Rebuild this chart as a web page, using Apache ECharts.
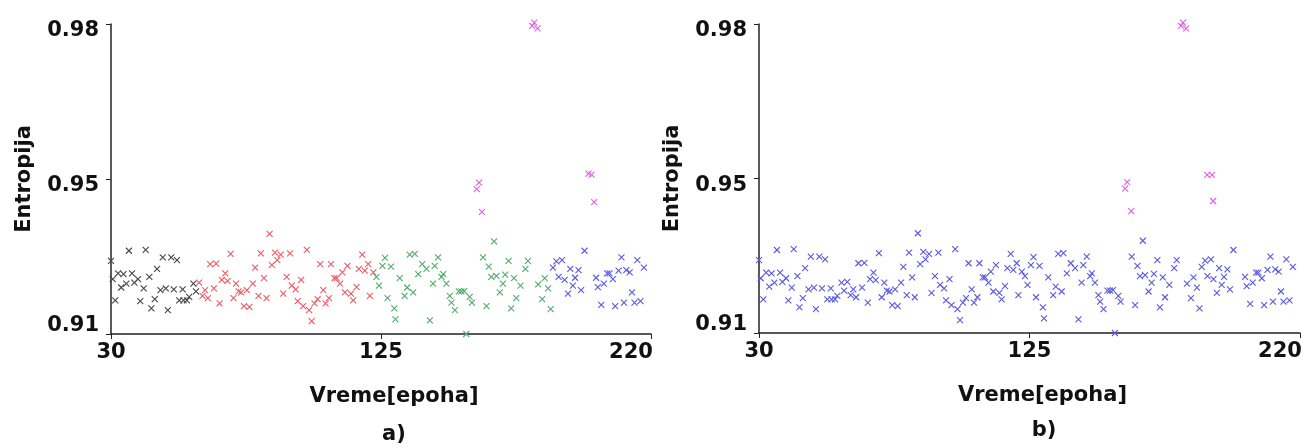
<!DOCTYPE html>
<html>
<head>
<meta charset="utf-8">
<script src="https://cdn.jsdelivr.net/npm/echarts@6/dist/echarts.min.js"></script>
<style>
  html, body { margin: 0; padding: 0; background: #fff; }
  #chart { width: 1310px; height: 448px; }
</style>
</head>
<body>
<div id="chart"></div>
<script>
// Epoch (x) and entropy (y) of every regular measurement
const epochs = [
  30, 30.6, 31.5, 32.5, 33.6, 34.4, 35.4, 36.3, 37.4, 38.2, 39.5, 40.3, 41.5, 42.2, 43.5, 44.2,
  45.4, 46.2, 47.4, 48.2, 49.3, 50, 51.2, 52.1, 53.2, 54, 55.2, 55.5, 56.7, 57.5, 59, 59.9,
  61, 62.2, 63.1, 64.1, 64.9, 66.2, 67, 68.2, 69, 70.2, 71, 72.1, 73.1, 74, 74.9, 75.8, 76.8,
  77.8, 78.7, 79.9, 80.7, 81.9, 82.7, 83.8, 84.7, 85.8, 86.6, 87.7, 88.5, 89.7, 90.6, 91.8, 93,
  93.6, 95, 95.7, 96.9, 97.6, 98.9, 99.7, 100.6, 101.6, 102.7, 103.6, 104.7, 105.5, 106.7, 107.4,
  108.6, 109.4, 110.6, 111.4, 112.3, 113.2, 114.4, 115.2, 116.4, 117.2, 118.4, 119.3, 120.5,
  121.1, 122.3,
  123.4, 124.3, 125.5, 126.4, 127.3, 128.5, 129.7, 130.1, 131.6, 133.3, 134.2, 135.1, 136.3,
  136.9, 138.1, 139.5, 141, 142.2, 143.3, 143.9, 145.1, 146.3, 146.9, 148, 149.2, 149.8, 151,
  152.4, 153.3, 154.3, 155, 156.2, 157, 160.9, 162.1, 162.9, 163.8, 164.8, 165.6, 166.8, 167.9,
  168.7, 169.9, 170.8, 171.8, 172.6, 174.1, 175.8, 176.7, 180.3, 181.7, 182.6, 183.8, 184.7,
  185.5, 186.7, 187.5, 188.7, 189.6, 190.8, 191.6, 192.5, 193.3, 194.5, 195.4, 196.6, 200.7,
  201.3, 202.5, 203.4, 204.6, 205.4, 206.6, 207.4, 208.6, 209.6, 210.5, 211.3, 212.5, 213.3,
  214.2, 215.2, 216.3, 217.5
];
const entropy = [
  0.9265, 0.9224, 0.9176, 0.9237, 0.9205, 0.9235, 0.9214, 0.9288, 0.9237, 0.9216, 0.9224, 0.9174,
  0.9203, 0.9290, 0.9229, 0.9158, 0.9179, 0.9247, 0.9199, 0.9273, 0.9203, 0.9154, 0.9273, 0.9201,
  0.9267, 0.9176, 0.9201, 0.9176, 0.9176, 0.9184, 0.9214, 0.9196,
  0.9216, 0.9186, 0.9199, 0.9181, 0.9258, 0.9203, 0.9259, 0.9169, 0.9222, 0.9237, 0.9220, 0.9281,
  0.9181, 0.9214, 0.9196, 0.9194, 0.9163, 0.9199, 0.9161, 0.9214, 0.9250, 0.9186, 0.9282, 0.9226,
  0.9181, 0.9326, 0.9256, 0.9284, 0.9267, 0.9279, 0.9191, 0.9229, 0.9282, 0.9209, 0.9201, 0.9174,
  0.9222, 0.9163, 0.9290, 0.9154, 0.9129, 0.9169, 0.9179, 0.9258, 0.9199, 0.9169, 0.9181, 0.9258,
  0.9226, 0.9226, 0.9214, 0.9239, 0.9194, 0.9254, 0.9191, 0.9176, 0.9206, 0.9247, 0.9279, 0.9243,
  0.9258, 0.9186, 0.9239,
  0.9229, 0.9209, 0.9254, 0.9272, 0.9181, 0.9252, 0.9158, 0.9133, 0.9226, 0.9186, 0.9205, 0.9279,
  0.9194, 0.9281, 0.9235, 0.9258, 0.9247, 0.9131, 0.9214, 0.9254, 0.9273, 0.9229, 0.9235, 0.9214,
  0.9186, 0.9171, 0.9154, 0.9196, 0.9196, 0.9197, 0.9100, 0.9184, 0.9171, 0.9273, 0.9163, 0.9252,
  0.9229, 0.9309, 0.9231, 0.9194, 0.9214, 0.9234, 0.9265, 0.9158, 0.9226, 0.9181, 0.9209, 0.9247,
  0.9265, 0.9212, 0.9179, 0.9226, 0.9203, 0.9156,
  0.9250, 0.9264, 0.9229, 0.9267, 0.9222, 0.9191, 0.9247, 0.9209, 0.9227, 0.9244, 0.9199, 0.9288,
  0.9227, 0.9206, 0.9166, 0.9214, 0.9237, 0.9237, 0.9224, 0.9163, 0.9243, 0.9273, 0.9171, 0.9244,
  0.9239, 0.9194, 0.9171, 0.9267, 0.9174, 0.9250
];

// Anomalous measurements, plot a)
const outlierEpochsA  = [158.7, 159.5, 160.5, 178.2, 178.9, 180.1, 198, 199.1, 200];
const outlierEntropyA = [0.9427, 0.9442, 0.9376, 0.9796, 0.9803, 0.9790, 0.9462, 0.9460, 0.9398];
// Anomalous measurements, plot b)
const outlierEpochsB  = [158.6, 159.3, 160.7, 178.2, 178.9, 180.0, 187.4, 189.1, 189.5];
const outlierEntropyB = [0.9427, 0.9442, 0.9376, 0.9796, 0.9803, 0.9790, 0.9458, 0.9458, 0.9399];

// Cluster boundaries along the epoch axis for plot a)
const clusterEnds   = [60.5, 122.8, 185.1, 220];
const clusterColors = ['#474747', '#ef5a64', '#4fae6a', '#5a5ae0'];
const uniformColor  = '#5a5ae0';
const outlierColor  = '#e060e6';

// Axis ticks
const xTicks = [30, 125, 220];
const yTicks = [0.91, 0.945, 0.98];
const yTickLabels = ['0.91', '0.95', '0.98'];
const xName = 'Vreme[epoha]';
const yName = 'Entropija';
const panelLabels = ['a)', 'b)'];

const FONT = 'DejaVu Sans';
const CROSS = 'path://M0,0L10,10M0,10L10,0';

function pairs(xs, ys) { return xs.map((x, i) => [x, ys[i]]); }

function crossSeries(name, data, color, idx) {
  return {
    name, type: 'scatter', xAxisIndex: idx, yAxisIndex: idx,
    data, symbol: CROSS, symbolSize: 6, clip: false,
    itemStyle: { color: 'rgba(0,0,0,0)', borderColor: color, borderWidth: 1.1, opacity: 1 },
    emphasis: { disabled: true }, silent: true, animation: false
  };
}

function xAxisCfg(idx) {
  return {
    type: 'value', gridIndex: idx, min: 30, max: 220,
    name: xName, nameLocation: 'middle', nameGap: 52,
    nameTextStyle: { fontFamily: FONT, fontWeight: 'bold', fontSize: 21, color: '#111', padding: [0, 0, 0, 26] },
    axisLine: { show: true, lineStyle: { color: '#222', width: 1.5 } },
    axisTick: { show: true, length: 5, lineStyle: { color: '#222', width: 1 }, customValues: xTicks },
    axisLabel: {
      customValues: xTicks, margin: 8, fontFamily: FONT, fontWeight: 'bold', fontSize: 21, color: '#111',
      formatter: v => Math.abs(v - 220) < 1e-6 ? '{r|' + v + '}' : String(v),
      rich: { r: { fontFamily: FONT, fontWeight: 'bold', fontSize: 21, color: '#111', padding: [0, 40, 0, 0] } }
    },
    splitLine: { show: false }
  };
}

function yLabel(v) {
  let k = 0;
  yTicks.forEach((t, i) => { if (Math.abs(t - v) < Math.abs(yTicks[k] - v)) k = i; });
  return k === 0 ? '{lo|' + yTickLabels[k] + '}' : '{hi|' + yTickLabels[k] + '}';
}

function yAxisCfg(idx) {
  const base = { fontFamily: FONT, fontWeight: 'bold', fontSize: 21, color: '#111' };
  return {
    type: 'value', gridIndex: idx, min: 0.91, max: 0.98,
    name: yName, nameLocation: 'middle', nameGap: 76,
    nameTextStyle: { fontFamily: FONT, fontWeight: 'bold', fontSize: 21, color: '#111' },
    axisLine: { show: true, lineStyle: { color: '#222', width: 1.5 } },
    axisTick: { show: true, length: 5, lineStyle: { color: '#222', width: 1 }, customValues: yTicks },
    axisLabel: {
      customValues: yTicks, margin: 12, formatter: yLabel, ...base,
      rich: {
        hi: { ...base, padding: [14, 0, 0, 0] },
        lo: { ...base, padding: [0, 0, 16, 0] }
      }
    },
    splitLine: { show: false }
  };
}

const all = pairs(epochs, entropy);

// Plot a): regular points split into consecutive epoch clusters
const clusterSeries = clusterEnds.map((end, c) => {
  const start = c === 0 ? -Infinity : clusterEnds[c - 1];
  return crossSeries('cluster' + (c + 1), all.filter(p => p[0] > start && p[0] <= end), clusterColors[c], 0);
});

const chart = echarts.init(document.getElementById('chart'), null, { renderer: 'canvas' });
chart.setOption({
  backgroundColor: '#ffffff',
  animation: false,
  grid: [
    { left: 111, top: 24, width: 540, height: 310 },
    { left: 759, top: 24, width: 541, height: 309 }
  ],
  xAxis: [xAxisCfg(0), xAxisCfg(1)],
  yAxis: [yAxisCfg(0), yAxisCfg(1)],
  series: [
    ...clusterSeries,
    crossSeries('outliers a', pairs(outlierEpochsA, outlierEntropyA), outlierColor, 0),
    crossSeries('all b', all, uniformColor, 1),
    crossSeries('outliers b', pairs(outlierEpochsB, outlierEntropyB), outlierColor, 1)
  ],
  graphic: [
    { type: 'text', x: 394, y: 435, style: { text: panelLabels[0], fontFamily: FONT, fontWeight: 'bold', fontSize: 21, fill: '#111', textAlign: 'center', textVerticalAlign: 'middle' } },
    { type: 'text', x: 1044, y: 431, style: { text: panelLabels[1], fontFamily: FONT, fontWeight: 'bold', fontSize: 21, fill: '#111', textAlign: 'center', textVerticalAlign: 'middle' } }
  ]
});
</script>
</body>
</html>
